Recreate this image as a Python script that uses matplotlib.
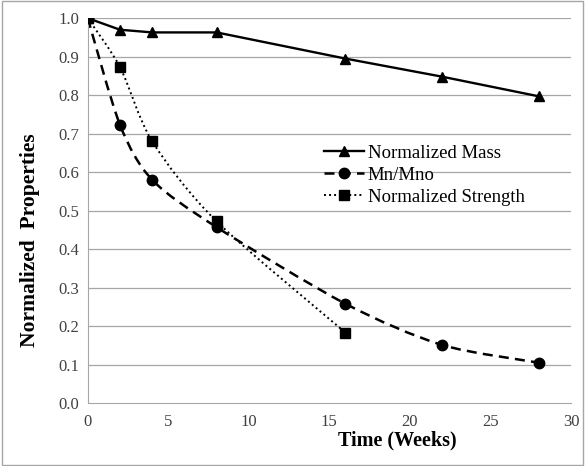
import matplotlib.pyplot as plt
from matplotlib.path import Path
from matplotlib.patches import PathPatch, Rectangle
from matplotlib.lines import Line2D
import numpy as np

plt.rcParams['font.family'] = ['Liberation Serif', 'DejaVu Serif']

# data
weeks_mass = [0, 2, 4, 8, 16, 22, 28]
mass = [1.0, 0.970, 0.963, 0.963, 0.895, 0.848, 0.797]

weeks_mn = [0, 2, 4, 8, 16, 22, 28]
mn_ratio = [1.0, 0.723, 0.580, 0.457, 0.258, 0.151, 0.105]

weeks_strength = [0, 2, 4, 8, 16]
strength = [1.0, 0.873, 0.680, 0.472, 0.183]

x_ticks = [0, 5, 10, 15, 20, 25, 30]
y_ticks = [0.0, 0.1, 0.2, 0.3, 0.4, 0.5, 0.6, 0.7, 0.8, 0.9, 1.0]

DASH = (0, (4, 2.5))
DOT = (0, (1, 1.6))


def smooth_path(xs, ys, t=0.14):
    # Excel-style smoothed line: cardinal spline drawn as cubic bezier segments
    xs = np.asarray(xs, float)
    ys = np.asarray(ys, float)
    n = len(xs)
    verts = [(xs[0], ys[0])]
    codes = [Path.MOVETO]
    for i in range(n - 1):
        p0 = i - 1 if i > 0 else i
        p3 = i + 2 if i + 2 < n else i + 1
        c1 = (xs[i] + (xs[i + 1] - xs[p0]) * t, ys[i] + (ys[i + 1] - ys[p0]) * t)
        c2 = (xs[i + 1] - (xs[p3] - xs[i]) * t, ys[i + 1] - (ys[p3] - ys[i]) * t)
        verts += [c1, c2, (xs[i + 1], ys[i + 1])]
        codes += [Path.CURVE4] * 3
    return Path(verts, codes)


fig = plt.figure(figsize=(5.85, 4.66), dpi=100)
ax = fig.add_axes([0.150, 0.135, 0.826, 0.826])

for y in y_ticks[1:]:
    ax.axhline(y, color='#a6a6a6', lw=0.9, zorder=0)

ax.plot(weeks_mass, mass, color='black', lw=1.7, marker='^', ms=7.5, zorder=3)

ax.add_patch(PathPatch(smooth_path(weeks_mn, mn_ratio), fill=False,
                       color='black', lw=1.8, ls=DASH, zorder=2))
ax.plot(weeks_mn, mn_ratio, color='black', marker='o', ms=7.5, ls='none', zorder=3)

ax.add_patch(PathPatch(smooth_path(weeks_strength, strength), fill=False,
                       color='black', lw=1.4, ls=DOT, zorder=2))
ax.plot(weeks_strength, strength, color='black', marker='s', ms=7.5, ls='none', zorder=3)

ax.set_xlim(0, 30)
ax.set_ylim(0, 1.0)
ax.set_xticks(x_ticks)
ax.set_yticks(y_ticks)
ax.set_yticklabels([f'{v:.1f}' for v in y_ticks])
ax.tick_params(length=0, labelsize=12, pad=8, labelcolor='#404040')
ax.tick_params(axis='y', pad=6)
for side in ['top', 'right']:
    ax.spines[side].set_visible(False)
for side in ['left', 'bottom']:
    ax.spines[side].set_color('#a6a6a6')

# legend with line samples matching the drawn styles
handles = [
    Line2D([], [], color='black', lw=1.7, marker='^', ms=7.5),
    Line2D([], [], color='black', lw=1.8, ls=DASH, marker='o', ms=7.5),
    Line2D([], [], color='black', lw=1.4, ls=DOT, marker='s', ms=7.5),
]
ax.legend(handles, ['Normalized Mass', 'Mn/Mno', 'Normalized Strength'],
          loc='upper left', bbox_to_anchor=(0.455, 0.715), frameon=False,
          fontsize=13.5, handlelength=2.1, handletextpad=0.2, labelspacing=0.25)

fig.text(0.68, 0.055, 'Time (Weeks)', fontsize=14.5, fontweight='bold',
         ha='center', va='center')
fig.text(0.052, 0.485, 'Normalized  Properties', fontsize=15.5, fontweight='bold',
         ha='center', va='center', rotation=90)

fig.add_artist(Rectangle((0.003, 0.003), 0.994, 0.994, transform=fig.transFigure,
                         fill=False, ec='#a6a6a6', lw=1))

fig.savefig('out.png', dpi=100)
